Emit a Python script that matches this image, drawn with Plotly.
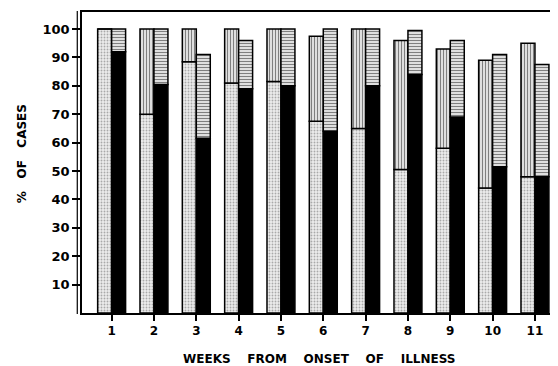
import plotly.graph_objects as go

weeks = [1, 2, 3, 4, 5, 6, 7, 8, 9, 10, 11]
week_labels = ["1", "2", "3", "4", "5", "6", "7", "8", "9", "10", "11"]
# left bar: dotted lower segment + vertical-hatched upper segment (total)
left_lower = [100, 70, 88.5, 81, 81.5, 67.5, 65, 50.5, 58, 44, 48]
left_total = [100, 100, 100, 100, 100, 97.5, 100, 96, 93, 89, 95]
# right bar: solid black lower segment + horizontal-hatched upper segment (total)
right_lower = [92, 80.5, 61.5, 79, 80, 64, 80, 84, 69, 51.5, 48]
right_total = [100, 100, 91, 96, 100, 100, 100, 99.5, 96, 91, 87.5]

left_upper = [t - l for t, l in zip(left_total, left_lower)]
right_upper = [t - l for t, l in zip(right_total, right_lower)]

W = 0.33
line = dict(color="black", width=1.5)

fig = go.Figure()
fig.add_trace(go.Bar(
    x=weeks, y=left_lower, base=0, width=W, offset=-W,
    marker=dict(color="white", line=line,
                pattern=dict(shape=".", fgcolor="#666666", bgcolor="#ececec", size=3, solidity=0.3)),
    showlegend=False))
fig.add_trace(go.Bar(
    x=weeks, y=left_upper, base=left_lower, width=W, offset=-W,
    marker=dict(color="white", line=line,
                pattern=dict(shape="|", fgcolor="black", bgcolor="white", size=3, solidity=0.5)),
    showlegend=False))
fig.add_trace(go.Bar(
    x=weeks, y=right_lower, base=0, width=W, offset=0,
    marker=dict(color="black", line=line),
    showlegend=False))
fig.add_trace(go.Bar(
    x=weeks, y=right_upper, base=right_lower, width=W, offset=0,
    marker=dict(color="white", line=line,
                pattern=dict(shape="-", fgcolor="black", bgcolor="white", size=3, solidity=0.5)),
    showlegend=False))

font_family = "DejaVu Sans, Liberation Sans, sans-serif"
sp = "\u00a0\u00a0\u00a0 "

# page body has an 8px margin; figure sized to end at the window edge
fig.update_layout(
    width=550, height=358,
    margin=dict(l=74, r=3, t=2, b=53),
    barmode="overlay",
    plot_bgcolor="white", paper_bgcolor="white",
    font=dict(family=font_family, color="black", size=12),
    xaxis=dict(range=[0.3, 11.45], tickvals=weeks, ticktext=week_labels,
               ticks="outside", ticklen=6, tickwidth=1.5, tickcolor="black",
               showline=True, linecolor="black", linewidth=1.5, mirror=True,
               showgrid=False, zeroline=False, tickfont=dict(size=12, weight="bold")),
    yaxis=dict(range=[0, 106], tickvals=[10, 20, 30, 40, 50, 60, 70, 80, 90, 100],
               ticks="outside", ticklen=8, tickwidth=1.5, tickcolor="black",
               showline=True, linecolor="black", linewidth=1.5, mirror=True,
               showgrid=False, zeroline=False, tickfont=dict(size=13, weight="bold")),
    annotations=[
        dict(text="WEEKS" + sp + "FROM" + sp + "ONSET" + sp + "OF" + sp + "ILLNESS",
             xref="paper", yref="paper", x=0.503, y=-0.152, yanchor="middle",
             showarrow=False, font=dict(size=12, family=font_family, weight="bold")),
        dict(text="%\u00a0\u00a0 OF\u00a0\u00a0 CASES", textangle=-90,
             xref="paper", yref="paper", x=-0.127, y=0.528, xanchor="center",
             showarrow=False, font=dict(size=12, family=font_family, weight="bold")),
    ],
    shapes=[dict(type="line", xref="paper", yref="paper", x0=-0.01, x1=-0.01, y0=-0.003, y1=1.003,
                 line=dict(color="black", width=1.2))],
)

fig.write_html("out.html")
